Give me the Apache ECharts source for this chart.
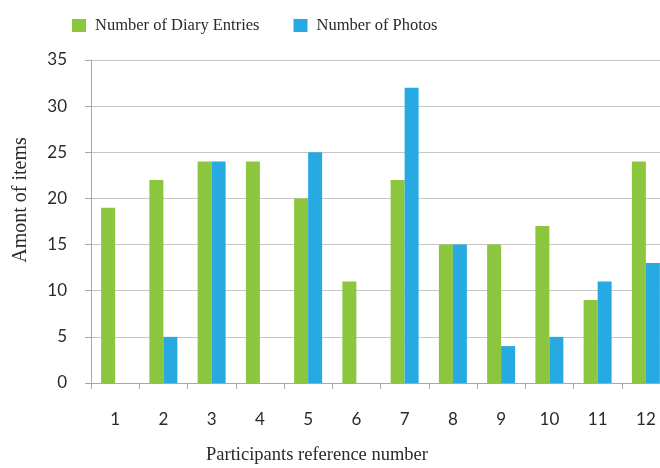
<!DOCTYPE html>
<html>
<head>
<meta charset="utf-8">
<script src="https://cdn.jsdelivr.net/npm/echarts@6/dist/echarts.min.js"></script>
<style>
  html, body { margin: 0; padding: 0; background: #ffffff; }
  #chart { width: 660px; height: 468px; }
</style>
</head>
<body>
<div id="chart"></div>
<script>
// Participant reference numbers along the x axis
const participants = ['1', '2', '3', '4', '5', '6', '7', '8', '9', '10', '11', '12'];
// Diary entries per participant
const diaryEntries = [19, 22, 24, 24, 20, 11, 22, 15, 15, 17, 9, 24];
// Photos per participant (0 = none submitted)
const photos = [0, 5, 24, 0, 25, 0, 32, 15, 4, 5, 11, 13];
// Value axis range
const yMin = 0, yMax = 35, yStep = 5;

const serif = '"Liberation Serif", "Times New Roman", serif';
const sans = 'Lato, "Noto Sans", sans-serif';
const gridColor = '#c6c6c6';
const textColor = '#2a2a2a';

const chart = echarts.init(document.getElementById('chart'), null, { renderer: 'canvas' });

chart.setOption({
  backgroundColor: '#ffffff',
  animation: false,
  color: ['#8cc63f', '#27aae1'],
  title: {
    text: 'Participants reference number',
    left: 317,
    top: 446,
    padding: 0,
    textAlign: 'center',
    textStyle: { fontFamily: serif, fontSize: 18.5, fontWeight: 'normal', color: textColor }
  },
  legend: {
    left: 72,
    top: 17,
    padding: 0,
    itemWidth: 14,
    itemHeight: 13,
    itemGap: 34,
    icon: 'rect',
    textStyle: { fontFamily: serif, fontSize: 16.5, color: textColor, padding: [0, 0, 0, 4] },
    data: ['Number of Diary Entries', 'Number of Photos']
  },
  // rotated y-axis caption
  graphic: [{
    type: 'text',
    x: 21,
    y: 200,
    rotation: Math.PI / 2,
    style: {
      text: 'Amont of items',
      fontFamily: serif,
      fontSize: 20,
      fill: textColor,
      align: 'center',
      verticalAlign: 'middle'
    }
  }],
  grid: {
    left: 91,
    top: 60,
    width: 579,
    bottom: 85,
    outerBoundsMode: 'none'
  },
  xAxis: {
    type: 'category',
    data: participants,
    axisLine: { lineStyle: { color: '#a8a8a8', width: 1 } },
    axisTick: { show: true, alignWithLabel: false, length: 6, lineStyle: { color: '#a8a8a8' } },
    axisLabel: { fontFamily: sans, fontSize: 17, color: textColor, margin: 28 }
  },
  yAxis: {
    type: 'value',
    min: yMin,
    max: yMax,
    interval: yStep,
    axisLine: { show: true, lineStyle: { color: '#a8a8a8', width: 1 } },
    axisTick: { show: true, length: 6, lineStyle: { color: '#a8a8a8' } },
    axisLabel: { fontFamily: sans, fontSize: 17, color: textColor, margin: 24 },
    splitLine: { show: true, lineStyle: { color: gridColor, width: 1 } }
  },
  series: [
    {
      name: 'Number of Diary Entries',
      type: 'bar',
      data: diaryEntries,
      barWidth: 14,
      barGap: '0%'
    },
    {
      name: 'Number of Photos',
      type: 'bar',
      data: photos,
      barWidth: 14,
      barGap: '0%'
    }
  ]
});
</script>
</body>
</html>
